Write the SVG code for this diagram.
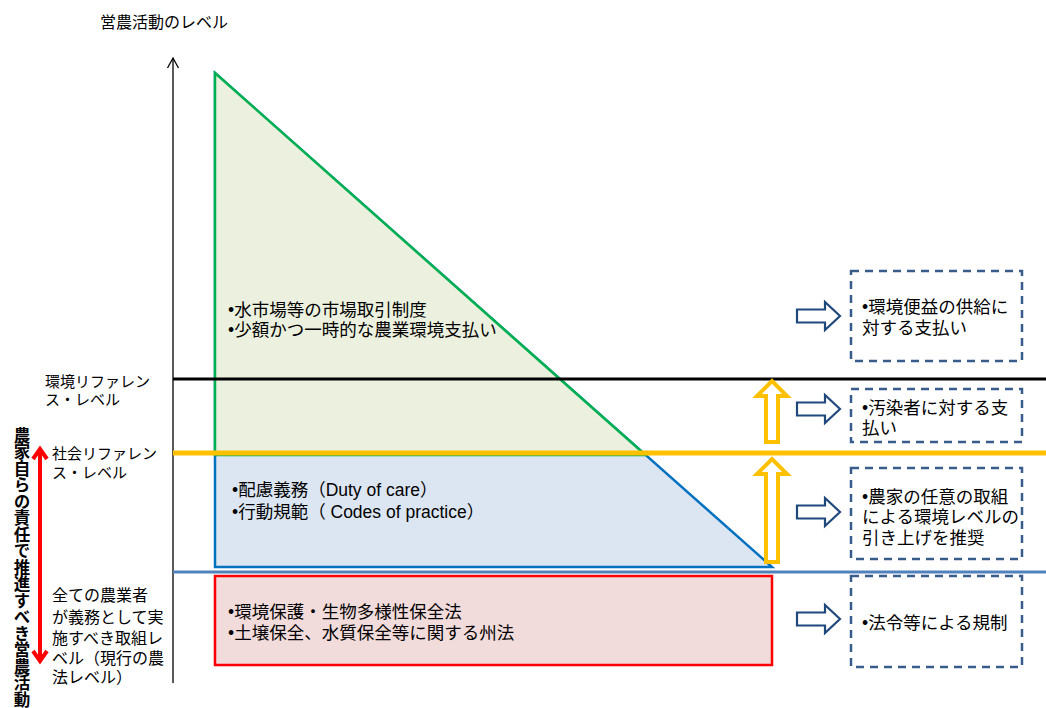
<svg xmlns="http://www.w3.org/2000/svg" width="1046" height="708" viewBox="0 0 1046 708">
  <style>
    text { font-family: "Liberation Sans", "Noto Sans CJK JP", sans-serif; fill: #000; }
    .t17 { font-size: 17.5px; }
    .t16 { font-size: 16px; }
    .t15 { font-size: 15px; }
    .dash { fill: #fff; stroke: #385D8A; stroke-width: 2.5; stroke-dasharray: 8 6; }
    .navy { fill: #fff; stroke: #1F497D; stroke-width: 2.2; stroke-linejoin: miter; }
    .yel { fill: #fff; stroke: #FFC000; stroke-width: 4; stroke-linejoin: miter; }
  </style>
  <defs>
    <path id="rarrow" d="M0,-6.5 H28 V-14 L43,0 L28,14 V6.5 H0 Z"/>
  </defs>
  <rect width="1046" height="708" fill="#fff"/>

  <!-- axis title -->
  <text class="t16" x="100" y="28">営農活動のレベル</text>

  <!-- vertical axis -->
  <g id="axis" fill="none" stroke="#000" stroke-width="1.3">
    <line x1="173" y1="58" x2="173" y2="683"/>
    <polyline points="167.5,68 173,58 178.5,68"/>
  </g>

  <!-- activity level areas -->
  <g id="blue-area">
    <polygon points="215,73 772,567 215,567" fill="#DCE6F2" stroke="#0070C0" stroke-width="2.5"/>
    <text class="t17" x="232" y="496">•配慮義務（Duty of care）</text>
    <text class="t17" x="232" y="518">•行動規範（ Codes of practice）</text>
  </g>
  <g id="green-area">
    <polygon points="215,73 645.5,455 215,455" fill="#EBF1DE" stroke="#00B050" stroke-width="2.5"/>
    <text class="t17" x="228" y="316">•水市場等の市場取引制度</text>
    <text class="t17" x="228" y="336">•少額かつ一時的な農業環境支払い</text>
  </g>
  <g id="red-area">
    <rect x="215" y="576" width="557" height="89" fill="#F2DCDB" stroke="#FF0000" stroke-width="2.5"/>
    <text class="t17" x="228" y="618">•環境保護・生物多様性保全法</text>
    <text class="t17" x="228" y="639">•土壌保全、水質保全等に関する州法</text>
  </g>

  <!-- reference levels -->
  <g id="levels">
    <line x1="173" y1="379" x2="1046" y2="379" stroke="#000" stroke-width="3"/>
    <line x1="173" y1="453" x2="1046" y2="453" stroke="#FFC000" stroke-width="5"/>
    <line x1="173" y1="572" x2="1046" y2="572" stroke="#4F81BD" stroke-width="3"/>
  </g>

  <!-- level labels -->
  <g id="label-env">
    <text class="t15" x="45" y="387">環境リファレン</text>
    <text class="t15" x="45" y="405">ス・レベル</text>
  </g>
  <g id="label-social">
    <text class="t15" x="52" y="459">社会リファレン</text>
    <text class="t15" x="52" y="478">ス・レベル</text>
  </g>
  <g id="label-all">
    <text class="t16" x="52" y="601">全ての農業者</text>
    <text class="t16" x="52" y="623">が義務として実</text>
    <text class="t16" x="52" y="644">施すべき取組レ</text>
    <text class="t16" x="52" y="664">ベル（現行の農</text>
    <text class="t16" x="52" y="683">法レベル）</text>
  </g>

  <!-- farmers' own responsibility range -->
  <g id="responsibility">
    <text x="21" y="427" style="writing-mode: vertical-rl; font-size: 16.5px; font-weight: bold;">農家自らの責任で推進すべき営農活動</text>
    <g fill="none" stroke="#FF0000" stroke-width="4">
      <line x1="40" y1="449" x2="40" y2="661"/>
      <polyline points="33,459 40,449 47,459"/>
      <polyline points="33,651 40,661 47,651"/>
    </g>
  </g>

  <!-- connectors -->
  <g id="connectors">
    <path class="yel" d="M766,442 V396 H757 L772,381 L787,396 H778 V442 Z"/>
    <path class="yel" d="M766,562 V474 H757 L772,459 L787,474 H778 V562 Z"/>
    <use href="#rarrow" class="navy" x="797" y="316"/>
    <use href="#rarrow" class="navy" x="797" y="409"/>
    <use href="#rarrow" class="navy" x="797" y="512"/>
    <use href="#rarrow" class="navy" x="797" y="619"/>
  </g>

  <!-- measures -->
  <g id="box-benefit">
    <rect class="dash" x="851" y="271" width="171" height="90"/>
    <text class="t17" x="862" y="313">•環境便益の供給に</text>
    <text class="t17" x="862" y="334">対する支払い</text>
  </g>
  <g id="box-polluter">
    <rect class="dash" x="851" y="389" width="171" height="53"/>
    <text class="t17" x="862" y="414">•汚染者に対する支</text>
    <text class="t17" x="862" y="434">払い</text>
  </g>
  <g id="box-voluntary">
    <rect class="dash" x="851" y="468" width="171" height="91"/>
    <text class="t17" x="862" y="503">•農家の任意の取組</text>
    <text class="t17" x="862" y="523">による環境レベルの</text>
    <text class="t17" x="862" y="544">引き上げを推奨</text>
  </g>
  <g id="box-regulation">
    <rect class="dash" x="851" y="576" width="171" height="91"/>
    <text class="t17" x="862" y="629">•法令等による規制</text>
  </g>
</svg>
